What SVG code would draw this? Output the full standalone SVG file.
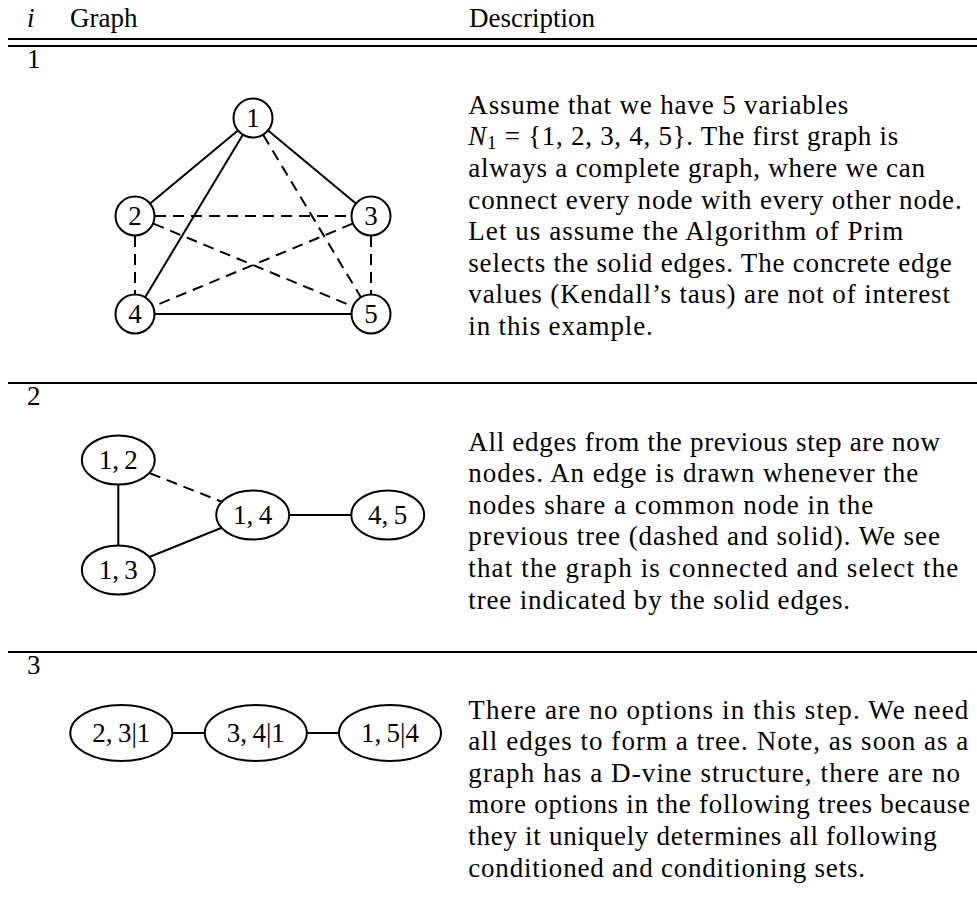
<svg xmlns="http://www.w3.org/2000/svg" width="977" height="916" viewBox="0 0 977 916">
<style>
text { font-family: "Liberation Serif", "Times New Roman", serif; font-size: 27px; fill: #000; }
.c { text-anchor: middle; }
.nd { fill: #fff; stroke: #000; stroke-width: 2; }
.e { stroke: #000; stroke-width: 2; fill: none; }
.d { stroke-dasharray: 11 7; }
.rule { stroke: #000; stroke-width: 2; }
</style>
<rect width="977" height="916" fill="#fff"/>

<g id="table">
  <text x="27" y="27" font-style="italic">i</text>
  <text x="70" y="27">Graph</text>
  <text x="469" y="27">Description</text>
  <line class="rule" x1="8" y1="39" x2="977" y2="39"/>
  <line class="rule" x1="8" y1="46" x2="977" y2="46"/>
  <text x="27" y="68">1</text>
  <line class="rule" x1="8" y1="383" x2="977" y2="383"/>
  <text x="27" y="405">2</text>
  <line class="rule" x1="8" y1="652" x2="977" y2="652"/>
  <text x="27" y="674">3</text>
</g>

<g id="connectors">
  <!-- graph 1 -->
  <line class="e" x1="237.6" y1="130.8" x2="150.4" y2="203.2"/>
  <line class="e" x1="268.4" y1="130.8" x2="355.6" y2="203.2"/>
  <line class="e" x1="242.7" y1="135.1" x2="145.3" y2="296.9"/>
  <line class="e d" x1="263.3" y1="135.1" x2="360.7" y2="296.9"/>
  <line class="e d" x1="155" y1="216" x2="351" y2="216"/>
  <line class="e" x1="155" y1="314" x2="351" y2="314"/>
  <line class="e d" x1="135" y1="236" x2="135" y2="294"/>
  <line class="e d" x1="371" y1="236" x2="371" y2="294"/>
  <line class="e d" x1="153.5" y1="223.7" x2="352.5" y2="306.3"/>
  <line class="e d" x1="352.5" y1="223.7" x2="153.5" y2="306.3"/>
  <!-- graph 2 -->
  <line class="e" x1="118.3" y1="484.5" x2="118.3" y2="545.5"/>
  <line class="e d" x1="150" y1="473.3" x2="221.7" y2="501.7"/>
  <line class="e" x1="150" y1="556.7" x2="221.7" y2="527.7"/>
  <line class="e" x1="289.2" y1="515" x2="351.2" y2="515"/>
  <!-- graph 3 -->
  <line class="e" x1="172.3" y1="733" x2="204.8" y2="733"/>
  <line class="e" x1="306.8" y1="733" x2="339" y2="733"/>
</g>

<g id="n1"><circle class="nd" cx="253" cy="118" r="19.5"/><text class="c" x="253" y="127">1</text></g>
<g id="n2"><circle class="nd" cx="135" cy="216" r="19.5"/><text class="c" x="135" y="225">2</text></g>
<g id="n3"><circle class="nd" cx="371" cy="216" r="19.5"/><text class="c" x="371" y="225">3</text></g>
<g id="n4"><circle class="nd" cx="135" cy="314" r="19.5"/><text class="c" x="135" y="323">4</text></g>
<g id="n5"><circle class="nd" cx="371" cy="314" r="19.5"/><text class="c" x="371" y="323">5</text></g>

<g id="n12"><ellipse class="nd" cx="118.3" cy="460" rx="36.5" ry="24.5"/><text class="c" x="118.3" y="469">1,&#8201;2</text></g>
<g id="n13"><ellipse class="nd" cx="118.3" cy="570" rx="36.5" ry="24.5"/><text class="c" x="118.3" y="579">1,&#8201;3</text></g>
<g id="n14"><ellipse class="nd" cx="252.7" cy="515" rx="36.5" ry="24.5"/><text class="c" x="252.7" y="524">1,&#8201;4</text></g>
<g id="n45"><ellipse class="nd" cx="387.7" cy="515" rx="36.5" ry="24.5"/><text class="c" x="387.7" y="524">4,&#8201;5</text></g>

<g id="n23_1"><ellipse class="nd" cx="121.3" cy="733" rx="51" ry="28"/><text class="c" x="121.3" y="742">2,&#8201;3|1</text></g>
<g id="n34_1"><ellipse class="nd" cx="255.8" cy="733" rx="51" ry="28"/><text class="c" x="255.8" y="742">3,&#8201;4|1</text></g>
<g id="n15_4"><ellipse class="nd" cx="390" cy="733" rx="51" ry="28"/><text class="c" x="390" y="742">1,&#8201;5|4</text></g>

<g id="desc1">
  <text x="468.3" y="113.8" textLength="380" lengthAdjust="spacing">Assume that we have 5 variables</text>
  <text x="468.3" y="145.4" textLength="430" lengthAdjust="spacing"><tspan font-style="italic">N</tspan><tspan font-size="19" dy="4">1</tspan><tspan dy="-4"> = {1, 2, 3, 4, 5}. The first graph is</tspan></text>
  <text x="468.3" y="177" textLength="456.7" lengthAdjust="spacing">always a complete graph, where we can</text>
  <text x="468.3" y="208.6" textLength="493.4" lengthAdjust="spacing">connect every node with every other node.</text>
  <text x="468.3" y="240.2" textLength="435" lengthAdjust="spacing">Let us assume the Algorithm of Prim</text>
  <text x="468.3" y="271.8" textLength="483.4" lengthAdjust="spacing">selects the solid edges. The concrete edge</text>
  <text x="468.3" y="303.4" textLength="481.7" lengthAdjust="spacing">values (Kendall’s taus) are not of interest</text>
  <text x="468.3" y="335" textLength="184.4" lengthAdjust="spacing">in this example.</text>
</g>

<g id="desc2">
  <text x="468.3" y="450.5" textLength="471.7" lengthAdjust="spacing">All edges from the previous step are now</text>
  <text x="468.3" y="482.1" textLength="450" lengthAdjust="spacing">nodes. An edge is drawn whenever the</text>
  <text x="468.3" y="513.7" textLength="405" lengthAdjust="spacing">nodes share a common node in the</text>
  <text x="468.3" y="545.3" textLength="471.7" lengthAdjust="spacing">previous tree (dashed and solid). We see</text>
  <text x="468.3" y="576.9" textLength="490" lengthAdjust="spacing">that the graph is connected and select the</text>
  <text x="468.3" y="608.5" textLength="381.7" lengthAdjust="spacing">tree indicated by the solid edges.</text>
</g>

<g id="desc3">
  <text x="468.3" y="718.5" textLength="500" lengthAdjust="spacing">There are no options in this step. We need</text>
  <text x="468.3" y="750.1" textLength="500" lengthAdjust="spacing">all edges to form a tree. Note, as soon as a</text>
  <text x="468.3" y="781.7" textLength="491.7" lengthAdjust="spacing">graph has a D-vine structure, there are no</text>
  <text x="468.3" y="813.3" textLength="501.7" lengthAdjust="spacing">more options in the following trees because</text>
  <text x="468.3" y="844.9" textLength="468.4" lengthAdjust="spacing">they it uniquely determines all following</text>
  <text x="468.3" y="876.5" textLength="396.7" lengthAdjust="spacing">conditioned and conditioning sets.</text>
</g>
</svg>
